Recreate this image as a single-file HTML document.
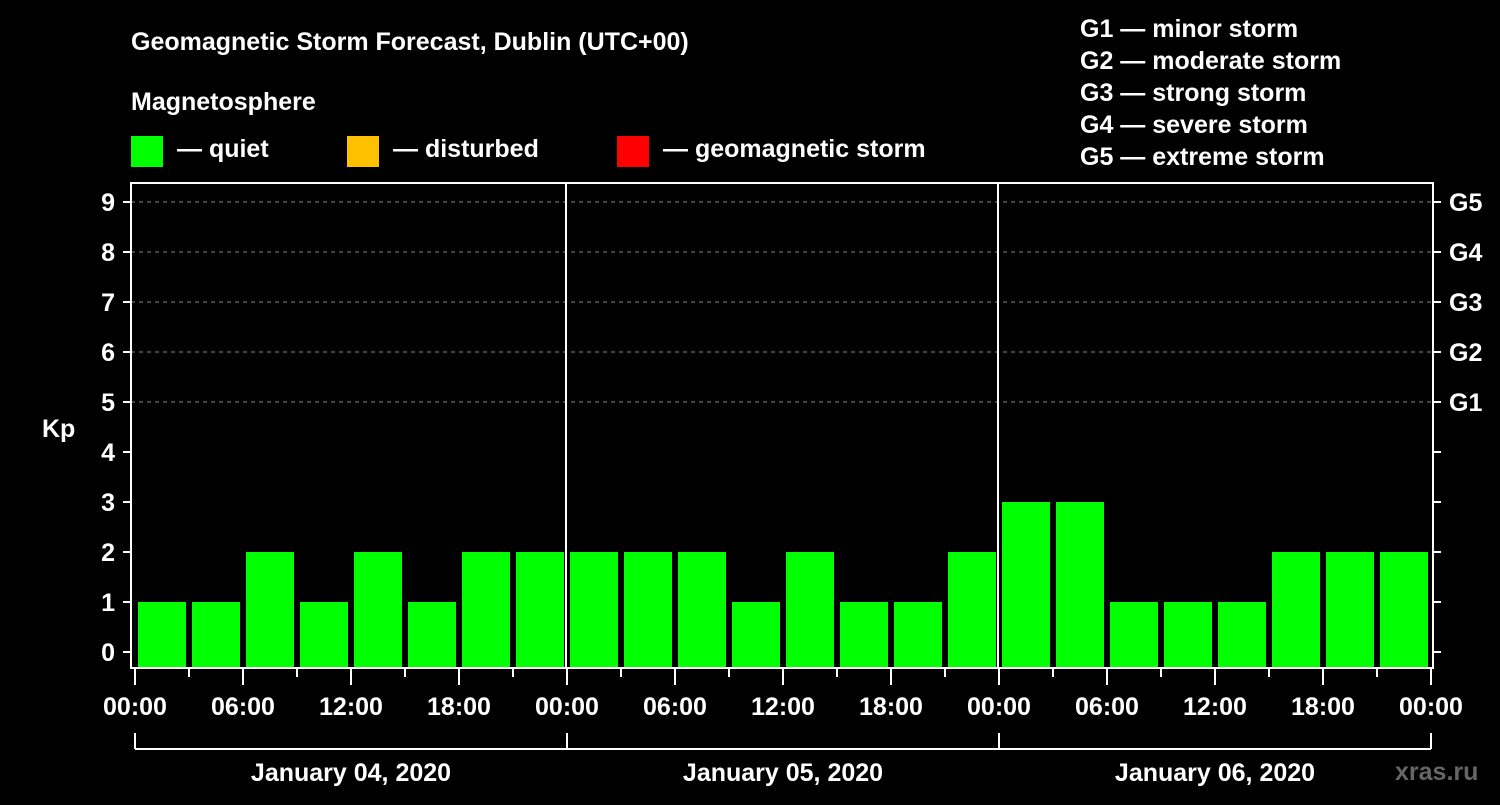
<!DOCTYPE html>
<html><head><meta charset="utf-8"><style>
body{margin:0;background:#000;width:1500px;height:800px;overflow:hidden}
svg text{font-family:"Liberation Sans",Arial,sans-serif;font-weight:bold;fill:#fff}
</style></head><body>
<svg id="c" width="1500" height="800">
<text x="131" y="50" font-size="25">Geomagnetic Storm Forecast, Dublin (UTC+00)</text>
<text x="131" y="110" font-size="25">Magnetosphere</text>
<g><rect x="131" y="136" width="32" height="31" fill="#00ff00"/><text x="177" y="157" font-size="25">— quiet</text></g>
<g><rect x="347" y="136" width="32" height="31" fill="#ffc000"/><text x="393" y="157" font-size="25">— disturbed</text></g>
<g><rect x="617" y="136" width="32" height="31" fill="#ff0000"/><text x="663" y="157" font-size="25">— geomagnetic storm</text></g>
<g font-size="25">
<text x="1080" y="37">G1 — minor storm</text><text x="1080" y="69">G2 — moderate storm</text><text x="1080" y="101">G3 — strong storm</text><text x="1080" y="133">G4 — severe storm</text><text x="1080" y="165">G5 — extreme storm</text></g>
<text x="42" y="437" font-size="25">Kp</text>
<text x="1395" y="780" font-size="25" fill="#666" style="fill:#666">xras.ru</text>
<g id="plot"></g>
</svg>
<script>
const kpValues=[1,1,2,1,2,1,2,2, 2,2,2,1,2,1,1,2, 3,3,1,1,1,2,2,2];
const yTicks=[0,1,2,3,4,5,6,7,8,9];
const gLabels=["G1","G2","G3","G4","G5"];
const gLevels=[5,6,7,8,9];
const timeLabels=["00:00","06:00","12:00","18:00","00:00","06:00","12:00","18:00","00:00","06:00","12:00","18:00","00:00"];
const dayLabels=["January 04, 2020","January 05, 2020","January 06, 2020"];
const NS="http://www.w3.org/2000/svg",P=document.getElementById('plot');
const x0=135,slot=54,L=131,R=1433,T=183,B=668;
const y=v=>652-v*50;
const xs=i=>x0+i*slot;
function mk(t,a,txt){const e=document.createElementNS(NS,t);for(const k in a)e.setAttribute(k,a[k]);if(txt!=null)e.textContent=txt;P.appendChild(e);return e;}
gLevels.forEach(v=>{const e=mk('line',{x1:L,x2:R,y1:y(v),y2:y(v),stroke:'#888','stroke-dasharray':'4,4'});

});
kpValues.forEach((v,i)=>{const e=mk('rect',{x:xs(i)+3,y:y(v),width:48,height:667-y(v),fill:v>=5?'#ff0000':v>=4?'#ffc000':'#00ff00'});

});
const f=mk('rect',{x:L,y:T,width:R-L,height:B-T,fill:'none',stroke:'#fff','stroke-width':2});


[1,2].forEach(d=>{const e=mk('line',{x1:xs(d*8)-1,x2:xs(d*8)-1,y1:T,y2:B,stroke:'#fff','stroke-width':2});

});
yTicks.forEach(v=>{mk('line',{x1:123,x2:L,y1:y(v),y2:y(v),stroke:'#fff','stroke-width':2});
const t=mk('text',{x:115,y:y(v)+9,'font-size':25,'text-anchor':'end'},v);


mk('line',{x1:R,x2:R+8,y1:y(v),y2:y(v),stroke:'#fff','stroke-width':2});});
gLabels.forEach((g,i)=>{const t=mk('text',{x:1449,y:y(gLevels[i])+9,'font-size':25},g);

});
for(let i=0;i<=24;i++){const maj=i%2==0;mk('line',{x1:xs(i),x2:xs(i),y1:B,y2:maj?685:677,stroke:'#fff','stroke-width':2});}
timeLabels.forEach((s,i)=>{const t=mk('text',{x:xs(i*2),y:715,'font-size':25,'text-anchor':'middle'},s);

});
mk('line',{x1:xs(0),x2:xs(24),y1:749,y2:749,stroke:'#fff','stroke-width':2});
[0,8,16,24].forEach(i=>mk('line',{x1:xs(i),x2:xs(i),y1:733,y2:749,stroke:'#fff','stroke-width':2}));
dayLabels.forEach((s,d)=>{const t=mk('text',{x:xs(d*8+4),y:781,'font-size':25,'text-anchor':'middle'},s);

});
</script>
</body></html>
